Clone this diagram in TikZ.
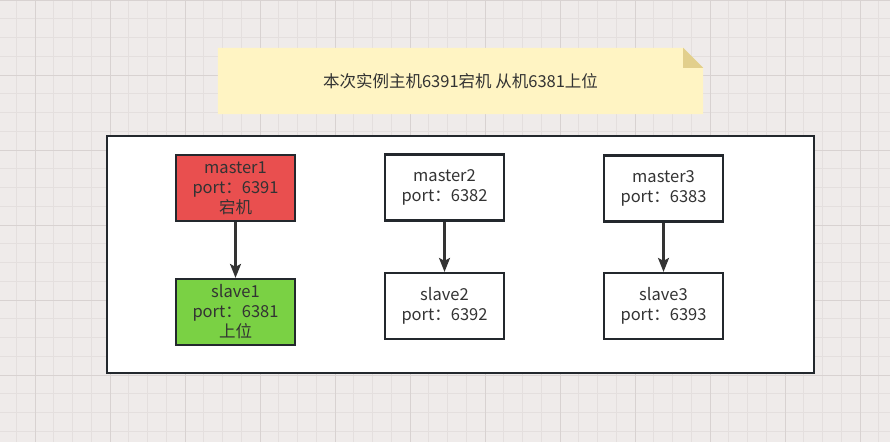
\documentclass[tikz,border=0pt]{standalone}
\usepackage{fontspec}
\setmainfont{Noto Sans CJK SC}
\usepackage{tikz}
\usetikzlibrary{arrows.meta, positioning, calc}

\definecolor{paper}{HTML}{EFEBEA}
\definecolor{gridminor}{HTML}{E4DFDE}
\definecolor{gridmajor}{HTML}{D8D2D1}
\definecolor{notefill}{HTML}{FFF4C3}
\definecolor{notefold}{HTML}{E2CF8C}
\definecolor{ink}{HTML}{23282D}
\definecolor{txt}{HTML}{333333}
\definecolor{downred}{HTML}{E94F4F}
\definecolor{upgreen}{HTML}{7AD144}

\begin{document}
\begin{tikzpicture}[
    x=1pt, y=-1pt,
    minorline/.style={draw=gridminor, line width=1pt},
    majorline/.style={draw=gridmajor, line width=1pt},
    frame/.style={rectangle, draw=ink, fill=white, line width=2pt, minimum width=707pt, minimum height=237pt},
    redis/.style={rectangle, draw=ink, fill=white, line width=2.2pt, minimum width=119pt, minimum height=66pt, align=center, inner sep=0pt, text=txt, font=\fontsize{16.5}{20}\selectfont},
    arrow/.style={-{Stealth[length=14pt, width=11pt, inset=3pt]}, draw=txt, line width=2.2pt}
]
\useasboundingbox (0,0) rectangle (890,442);
\fill[paper] (0,0) rectangle (890,442);
\foreach \i in {0,...,48} \draw[minorline] ({-2.5+18.75*\i},0) -- ++(0,442);
\foreach \j in {0,...,24} \draw[minorline] (0,{18.75*\j}) -- ++(890,0);
\foreach \i in {0,...,12} \draw[majorline] ({35+75*\i},0) -- ++(0,442);
\foreach \j in {0,...,6} \draw[majorline] (0,{75*\j}) -- ++(890,0);

% note
\node[minimum width=485pt, minimum height=66pt, inner sep=0pt] (note) at (460.5,81) {};
\fill[notefill] (note.south west) -- (note.north west) -- ([xshift=-20pt]note.north east)
    -- ([yshift=-20pt]note.north east) -- (note.south east) -- cycle;
\fill[notefold] ([xshift=-20pt]note.north east) -- ([xshift=-20pt, yshift=-20pt]note.north east)
    -- ([yshift=-20pt]note.north east) -- cycle;
\node[text=txt, font=\fontsize{16.5}{20}\selectfont] (notetext) at (note.center) {本次实例主机6391宕机 从机6381上位};

% cluster
\node[frame] (cluster) at (460.5,254.5) {};

\node[redis, fill=downred] (m1) at (235.5,188) {master1\\port：6391\\宕机};
\node[redis, fill=upgreen] (s1) at (235.5,312) {slave1\\port：6381\\上位};
\node[redis] (m2) at (444.5,187.5) {master2\\port：6382};
\node[redis] (s2) at (444.5,306) {slave2\\port：6392};
\node[redis] (m3) at (663.5,188.5) {master3\\port：6383};
\node[redis] (s3) at (663.5,306) {slave3\\port：6393};

\draw[arrow] (m1) -- (s1);
\draw[arrow] (m2) -- (s2);
\draw[arrow] (m3) -- (s3);
\end{tikzpicture}
\end{document}
